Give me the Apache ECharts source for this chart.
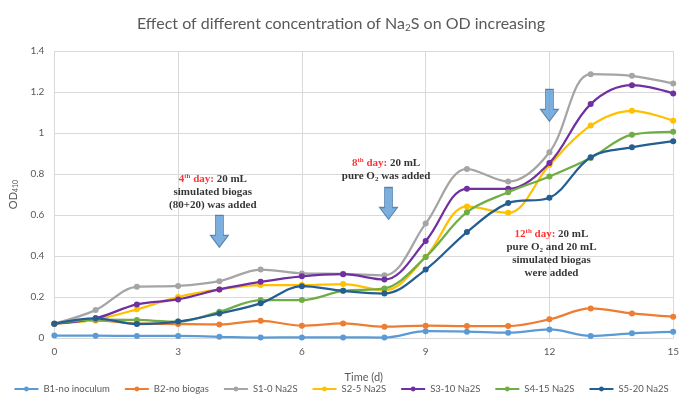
<!DOCTYPE html>
<html><head><meta charset="utf-8">
<script src="https://cdn.jsdelivr.net/npm/echarts@6/dist/echarts.min.js"></script>
<style>html,body{margin:0;padding:0;background:#fff}#c{width:682px;height:403px}</style>
</head><body><div id="c"></div>
<script>
const days = [0,1,2,3,4,5,6,7,8,9,10,11,12,13,14,15];
const seriesNames = ['B1-no inoculum','B2-no biogas','S1-0 Na2S','S2-5 Na2S','S3-10 Na2S','S4-15 Na2S','S5-20 Na2S'];
const B1 = [0.012,0.011,0.010,0.010,0.006,0.002,0.003,0.003,0.002,0.033,0.031,0.026,0.042,0.010,0.023,0.030];
const B2 = [0.070,0.085,0.071,0.068,0.066,0.084,0.060,0.071,0.055,0.060,0.058,0.058,0.091,0.144,0.120,0.104];
const S1 = [0.070,0.136,0.250,0.254,0.277,0.334,0.315,0.313,0.306,0.558,0.825,0.763,0.906,1.287,1.279,1.241];
const S2 = [0.070,0.090,0.140,0.200,0.237,0.258,0.258,0.263,0.233,0.395,0.642,0.611,0.844,1.036,1.108,1.060];
const S3 = [0.070,0.096,0.164,0.188,0.237,0.274,0.301,0.311,0.285,0.473,0.728,0.728,0.854,1.141,1.233,1.193];
const S4 = [0.070,0.090,0.088,0.080,0.128,0.185,0.185,0.230,0.242,0.395,0.614,0.711,0.788,0.878,0.992,1.006];
const S5 = [0.070,0.096,0.068,0.080,0.120,0.169,0.253,0.230,0.217,0.334,0.517,0.658,0.684,0.882,0.930,0.960];
const seriesValues = [B1,B2,S1,S2,S3,S4,S5];
const colors = ['#5B9BD5','#ED7D31','#A5A5A5','#FFC000','#7030A0','#70AD47','#255E91'];

// annotation anchors (day, OD)
const arrowAt = [[4,0.52],[8.1,0.656],[12,1.135]];
const noteAt = [[3.84,0.712],[8.04,0.82],[12.05,0.413]];
const notes = [
  '{r|4}{rs|th}{r| day:}{b| 20 mL}\n{b|simulated biogas}\n{b|(80+20) was added}',
  '{r|8}{rs|th}{r| day:}{b| 20 mL}\n{b|pure O}{bs|2}{b| was added}',
  '{r|12}{rs|th}{r| day:}{b| 20 mL}\n{b|pure O}{bs|2}{b| and 20 mL}\n{b|simulated biogas}\n{b|were added}'
];

const serif = 'Liberation Serif';
const rich = {
  r:{color:'#FF0000',fontFamily:serif,fontWeight:'bold',fontSize:11,lineHeight:13},
  rs:{color:'#FF0000',fontFamily:serif,fontWeight:'bold',fontSize:7,lineHeight:13,verticalAlign:'top'},
  b:{color:'#000',fontFamily:serif,fontWeight:'bold',fontSize:11,lineHeight:13},
  bs:{color:'#000',fontFamily:serif,fontWeight:'bold',fontSize:7,lineHeight:13,verticalAlign:'bottom'}
};

const arrowPath = 'path://M5,0 L13,0 L13,20 L18,20 L9,32 L0,20 L5,20 Z';

const lineSeries = seriesNames.map((n,i)=>({
  name:n, type:'line', smooth:0.35,
  data: days.map((d,j)=>[d, seriesValues[i][j]]),
  symbol:'circle', symbolSize:6, showSymbol:true,
  lineStyle:{width:2.25, color:colors[i]},
  itemStyle:{color:colors[i]},
  z:2+i
}));

const annotSeries = {
  name:'annot', type:'scatter', silent:true, z:20,
  data: arrowAt.map(p=>({value:p, symbol:arrowPath, symbolSize:[18,32],
      itemStyle:{color:'#5B9BD5', borderColor:'#41719C', borderWidth:1}}))
    .concat(noteAt.map((p,i)=>({value:p, symbolSize:0,
      label:{show:true, position:'inside', formatter:notes[i], rich:rich, align:'center'}})))
};

const chart = echarts.init(document.getElementById('c'), null, {renderer:'canvas'});
chart.setOption({
  animation:false,
  color:colors,
  title:{
    text:'Effect of different concentration of Na{s|2}S on OD increasing',
    left:'center', top:10,
    textStyle:{color:'#595959', fontSize:16, fontWeight:'normal', fontFamily:'Lato',
      rich:{s:{fontSize:10, color:'#595959', fontFamily:'Lato', verticalAlign:'bottom', padding:[8,0,0,0]}}}
  },
  grid:{left:53, right:4, top:51, bottom:65, containLabel:false},
  xAxis:{
    type:'value', min:0, max:15, interval:3,
    name:'Time (d)', nameLocation:'middle', nameGap:34,
    nameTextStyle:{color:'#595959', fontSize:11, fontFamily:'Lato'},
    axisLine:{show:true, lineStyle:{color:'#D9D9D9'}},
    axisTick:{show:false},
    axisLabel:{color:'#595959', fontSize:10, fontFamily:'Lato', margin:9},
    splitLine:{show:true, lineStyle:{color:'#D9D9D9', width:1}}
  },
  yAxis:{
    type:'value', min:0, max:1.4, interval:0.2,
    name:'OD{s|410}', nameLocation:'middle', nameGap:32,
    nameTextStyle:{color:'#595959', fontSize:11, fontFamily:'Lato',
      rich:{s:{fontSize:7, color:'#595959', fontFamily:'Lato', verticalAlign:'bottom', padding:[5,0,0,0]}}},
    axisLine:{show:false}, axisTick:{show:false},
    axisLabel:{color:'#595959', fontSize:10, fontFamily:'Lato', margin:10,
      formatter:v=>String(Math.round(v*10)/10)},
    splitLine:{show:true, lineStyle:{color:'#D9D9D9', width:1}}
  },
  legend:{
    data:seriesNames, bottom:4, left:'center',
    itemWidth:24, itemHeight:6, itemGap:14,
    textStyle:{color:'#595959', fontSize:9.5, fontFamily:'Lato'}
  },
  series: lineSeries.concat([annotSeries])
});
</script></body></html>
